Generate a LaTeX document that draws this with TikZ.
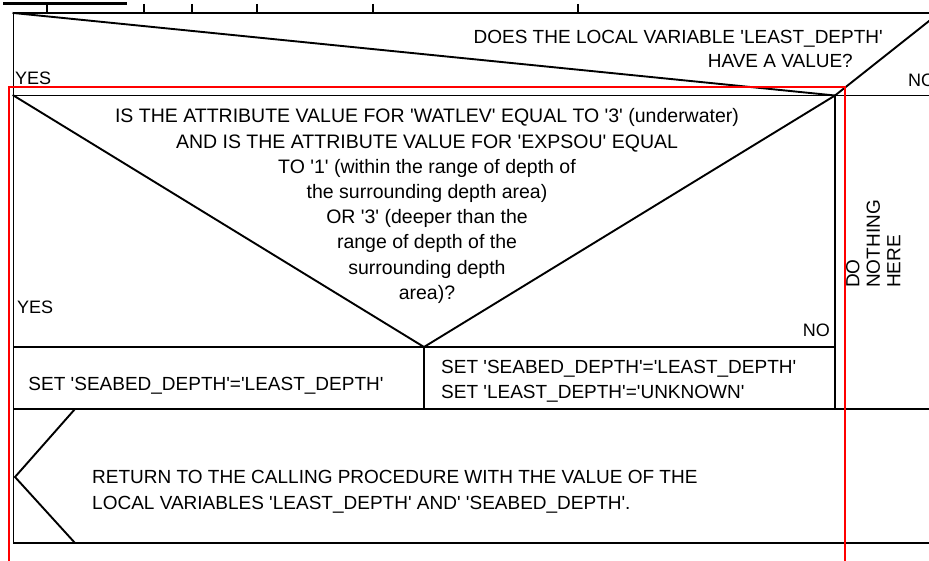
\documentclass[tikz,border=0pt]{standalone}
\usepackage{fontspec}
\setmainfont{Liberation Sans}
\newcommand{\aps}{\textquotesingle}
\begin{document}
\begin{tikzpicture}[x=1pt,y=-1pt,
  ln/.style={line width=1.9pt, black, line cap=rect},
  redbox/.style={draw=red, line width=2pt},
  txt/.style={inner sep=0pt, font=\fontsize{19}{25}\selectfont},
  qtxt/.style={inner sep=0pt, align=center, font=\fontsize{19.5}{25.2}\selectfont}]
\useasboundingbox (0,0) rectangle (929,561);
\clip (0,0) rectangle (929,561);
% named corner points
\coordinate (tl) at (13.5,13);
\coordinate (tr) at (935,13);
\coordinate (hl) at (13.5,95.5);
\coordinate (hr) at (935,95.5);
\coordinate (v1) at (835,95.5);
\coordinate (v1b) at (835,409);
\coordinate (ext) at (960,-3.5);
\coordinate (dv) at (424,347);
\coordinate (al) at (13.5,347);
\coordinate (ar) at (835,347);
\coordinate (abot) at (424,409);
\coordinate (rl) at (13.5,409);
\coordinate (rr) at (935,409);
\coordinate (bl) at (13.5,543);
\coordinate (br) at (935,543);
\coordinate (ch1) at (75,409);
\coordinate (ch2) at (15,477);
\coordinate (ch3) at (75,543);
% top ruler
\draw[line width=3pt] (3,3.5) coordinate (bar1) -- (127,3.5) coordinate (bar2);
\foreach \t in {47,144,192,257,373,578}{\draw[line width=1.6pt] (\t,4) -- (\t,13);}
% frame
\draw[ln] (tl) -- (tr);
\draw[ln] (tl) -- (bl);
\draw[ln] (hl) -- (hr);
\draw[ln] (tl) -- (v1) -- (ext);
\draw[ln] (v1) -- (v1b);
\draw[ln] (hl) -- (dv) -- (v1);
\draw[ln] (al) -- (ar);
\draw[ln] (dv) -- (abot);
\draw[ln] (rl) -- (rr);
\draw[ln] (bl) -- (br);
\draw[ln, line cap=round] (ch1) -- (ch2) -- (ch3);
% red rectangle
\draw[redbox] (9,600) coordinate (r1) -- (9,87) coordinate (r2) -- (845,87) coordinate (r3) -- (845,600) coordinate (r4);
% texts
\node[txt, anchor=base east] (q1) at (883,44) {DOES THE LOCAL VARIABLE \aps LEAST\_DEPTH\aps};
\node[txt, anchor=base east] (q1b) at (853,68) {HAVE A VALUE?};
\node[txt, anchor=base west, font=\fontsize{18}{20}\selectfont] (yes1) at (15,85) {YES};
\node[txt, anchor=base west, font=\fontsize{18}{20}\selectfont] (no1) at (908,87) {NO};
\node[qtxt, anchor=north] (q2) at (427,108.5) {IS THE ATTRIBUTE VALUE FOR \aps WATLEV\aps\ EQUAL TO \aps 3\aps\ (underwater)\\AND IS THE ATTRIBUTE VALUE FOR \aps EXPSOU\aps\ EQUAL\\TO \aps 1\aps\ (within the range of depth of\\the surrounding depth area)\\OR \aps 3\aps\ (deeper than the\\range of depth of the\\surrounding depth\\area)?};
\node[txt, anchor=base west, font=\fontsize{18}{20}\selectfont] (yes2) at (17,313) {YES};
\node[txt, anchor=base east, font=\fontsize{18}{20}\selectfont] (no2) at (830,337) {NO};
\node[txt, align=left, anchor=north west, rotate=90, font=\fontsize{19}{20.5}\selectfont] (dn) at (846,288) {DO\\NOTHING\\HERE};
\node[txt, anchor=base] (s1) at (206,390) {SET \aps SEABED\_DEPTH\aps=\aps LEAST\_DEPTH\aps};
\node[txt, align=left, anchor=north west] (s2) at (441,360) {SET \aps SEABED\_DEPTH\aps=\aps LEAST\_DEPTH\aps\\SET \aps LEAST\_DEPTH\aps=\aps UNKNOWN\aps};
\node[txt, align=left, anchor=north west, font=\fontsize{19}{26.5}\selectfont] (ret) at (92,470) {RETURN TO THE CALLING PROCEDURE WITH THE VALUE OF THE\\LOCAL VARIABLES \aps LEAST\_DEPTH\aps\ AND\aps\ \aps SEABED\_DEPTH\aps.};
\end{tikzpicture}
\end{document}
